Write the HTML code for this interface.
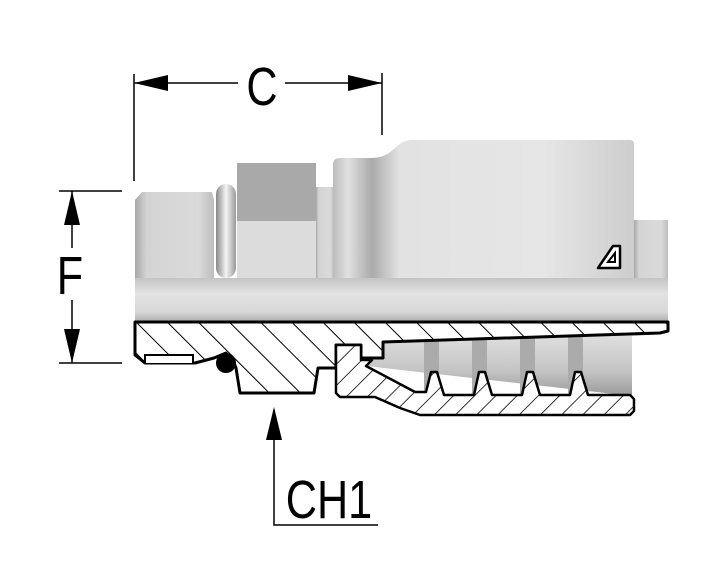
<!DOCTYPE html>
<html><head><meta charset="utf-8"><style>
html,body{margin:0;padding:0;background:#fff;}
svg{display:block;}
text{font-family:"Liberation Sans",sans-serif;fill:#000;}
</style></head><body>
<svg width="703" height="573" viewBox="0 0 703 573" xmlns="http://www.w3.org/2000/svg">
<defs>
<linearGradient id="gv" x1="0" y1="0" x2="0" y2="1">
<stop offset="0" stop-color="#c4c4c4"/><stop offset="0.35" stop-color="#e2e2e2"/><stop offset="0.75" stop-color="#d8d8d8"/><stop offset="1" stop-color="#a8a8a8"/>
</linearGradient>
<linearGradient id="gh" x1="0" y1="0" x2="1" y2="0">
<stop offset="0" stop-color="#a8a8a8"/><stop offset="0.15" stop-color="#d4d4d4"/><stop offset="0.8" stop-color="#dadada"/><stop offset="1" stop-color="#bdbdbd"/>
</linearGradient>
<linearGradient id="gs" x1="333" y1="0" x2="634" y2="0" gradientUnits="userSpaceOnUse">
<stop offset="0" stop-color="#bcbcbc"/><stop offset="0.05" stop-color="#e0e0e0"/><stop offset="0.13" stop-color="#aaaaaa"/><stop offset="0.22" stop-color="#e2e2e2"/><stop offset="0.7" stop-color="#e6e6e6"/><stop offset="1" stop-color="#cdcdcd"/>
</linearGradient>
<linearGradient id="gr" x1="0" y1="0" x2="1" y2="0">
<stop offset="0" stop-color="#888"/><stop offset="0.5" stop-color="#f4f4f4"/><stop offset="1" stop-color="#999"/>
</linearGradient>
<linearGradient id="gt" x1="0" y1="0" x2="0" y2="1">
<stop offset="0" stop-color="#e0e0e0"/><stop offset="0.6" stop-color="#c4c4c4"/><stop offset="1" stop-color="#9a9a9a"/>
</linearGradient>
<pattern id="h1" width="22" height="22" patternUnits="userSpaceOnUse" patternTransform="rotate(-45)">
<rect width="22" height="22" fill="#fff"/><line x1="0" y1="0" x2="0" y2="22" stroke="#000" stroke-width="2"/>
</pattern>
<pattern id="h2" width="15" height="15" patternUnits="userSpaceOnUse" patternTransform="rotate(45)">
<rect width="15" height="15" fill="#fff"/><line x1="0" y1="0" x2="0" y2="15" stroke="#000" stroke-width="1.6"/>
</pattern>
</defs>

<path d="M135,200 L142,192 L212,192 L214,200 L214,278 L135,278 Z" fill="url(#gh)"/>
<rect x="216" y="184" width="20" height="94" rx="10" fill="url(#gr)"/>
<rect x="237" y="163" width="79" height="58" fill="#a9a9a9"/>
<rect x="237" y="221" width="79" height="57" fill="#dcdcdc"/>
<rect x="316" y="187" width="18" height="91" fill="url(#gh)"/>
<path d="M333,165 Q333,158 340,158 L372,158 Q385,158 395,148 Q403,140 412,140 L630,140 Q634,140 634,144 L634,278 L333,278 Z" fill="url(#gs)"/>
<rect x="634" y="220" width="34" height="58" fill="url(#gh)"/>
<path d="M598,268 L613,246 L620,246 L620,268 Z" fill="#fff" stroke="#000" stroke-width="2.5" stroke-linejoin="round"/>
<path d="M608,262 L615,253 L615,262 Z" fill="none" stroke="#000" stroke-width="2"/>
<rect x="135" y="278" width="533" height="45" fill="url(#gv)"/>

<!-- hose region -->
<path d="M383,342 L660,333 L632,336 L632,396 L366,366 L372,360 L383,358 Z" fill="url(#gt)"/>
<g fill="#ababab">
<rect x="424" y="337" width="15" height="58"/><rect x="472" y="337" width="15" height="58"/><rect x="520" y="337" width="15" height="58"/><rect x="568" y="337" width="15" height="58"/>
</g>

<path d="M135,322 L668,322 L668,331 L660,333 L383,342 L383,358 L361,358 L361,345 L336,345 L336,368 L318,368 L314,393 L240,393 L236,368 L233,360 L226,353 L214,358 L195,363 L145,363 L135,355 Z" fill="url(#h1)" stroke="#000" stroke-width="3" stroke-linejoin="round"/>
<path d="M145,363 L145,355 L193,355 L193,363" fill="#fff" stroke="#000" stroke-width="2"/>
<circle cx="226" cy="363" r="10" fill="#000"/>

<path d="M336,345 L361,345 L361,360 L372,360 L366,366 L415,392 L426,392 L431,372 L437,372 L444,395 L474,395 L479,372 L485,372 L492,395 L522,395 L527,372 L533,372 L540,395 L570,395 L575,372 L581,372 L588,395 L630,395 L634,399 L634,411 L630,415 L420,415 L400,408 L375,397 L340,397 L336,393 Z" fill="url(#h2)" stroke="#000" stroke-width="2.5" stroke-linejoin="round"/>

<g stroke="#000" stroke-width="1.5" fill="none">
<line x1="134" y1="74" x2="134" y2="181"/>
<line x1="382" y1="73" x2="382" y2="135"/>
<line x1="134" y1="83" x2="238" y2="83"/>
<line x1="285" y1="83" x2="382" y2="83"/>
<line x1="59" y1="191" x2="122" y2="191"/>
<line x1="59" y1="363" x2="122" y2="363"/>
<line x1="72" y1="191" x2="72" y2="248"/>
<line x1="72" y1="300" x2="72" y2="363"/>
<polyline points="274,410 274,525 378,525"/>
</g>
<g fill="#000">
<polygon points="134,83 168,75 168,91"/>
<polygon points="382,83 348,75 348,91"/>
<polygon points="72,191 64,225 80,225"/>
<polygon points="72,363 64,329 80,329"/>
<polygon points="274,407 266,440 282,440"/>
</g>
<text x="262" y="105" font-size="54" text-anchor="middle" transform="translate(262 0) scale(0.8 1) translate(-262 0)">C</text>
<text x="70" y="294" font-size="54" text-anchor="middle" transform="translate(70 0) scale(0.8 1) translate(-70 0)">F</text>
<text x="329" y="518" font-size="54" text-anchor="middle" transform="translate(329 0) scale(0.8 1) translate(-329 0)">CH1</text>
</svg>
</body></html>
